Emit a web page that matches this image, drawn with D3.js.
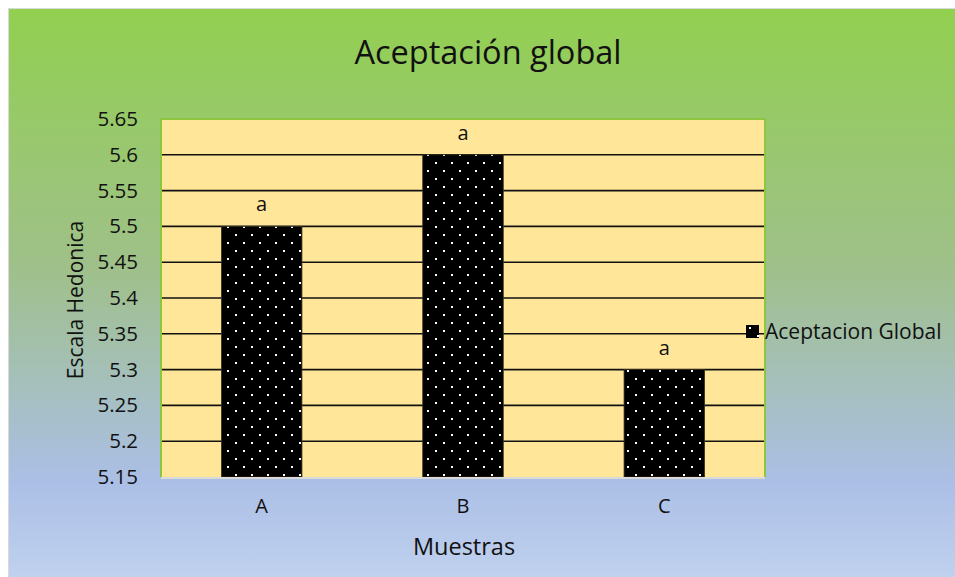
<!DOCTYPE html>
<html lang="es">
<head>
    <meta charset="UTF-8">
    <title>Aceptación global</title>
    <script src="https://cdn.jsdelivr.net/npm/d3@7"></script>
    <style>
        html, body {
            margin: 0;
            padding: 0;
            width: 100%;
            height: 100%;
            overflow: hidden;
            background: #fff;
        }
        text {
            font-family: "Open Sans", "Noto Sans", sans-serif;
            fill: #111;
        }
    </style>
</head>
<body>
</body>
<script>
    let width = 955;
    let height = 577;

    // datos
    let muestras = ['A', 'B', 'C'];
    let valores = [5.5, 5.6, 5.3];
    let letras = ['a', 'a', 'a'];
    let yTicks = [5.15, 5.2, 5.25, 5.3, 5.35, 5.4, 5.45, 5.5, 5.55, 5.6, 5.65];
    let serie = 'Aceptacion Global';

    let plot = {left: 161, right: 765, top: 119, bottom: 477};

    let svg = d3.select('body').append('svg')
        .attr('width', width)
        .attr('height', height);

    let defs = svg.append('defs');

    // fondo degradado verde -> azul
    let grad = defs.append('linearGradient')
        .attr('id', 'bg')
        .attr('x1', 0).attr('y1', 0).attr('x2', 0).attr('y2', 1);
    grad.append('stop').attr('offset', '0%').attr('stop-color', '#92d050');
    grad.append('stop').attr('offset', '45%').attr('stop-color', '#9fc08a');
    grad.append('stop').attr('offset', '82%').attr('stop-color', '#abbfe6');
    grad.append('stop').attr('offset', '100%').attr('stop-color', '#c2d3ef');

    // patrón de puntos blancos
    let pat = defs.append('pattern')
        .attr('id', 'dots')
        .attr('patternUnits', 'userSpaceOnUse')
        .attr('width', 16).attr('height', 16);
    pat.append('rect').attr('width', 16).attr('height', 16).attr('fill', '#000');
    pat.append('rect').attr('x', 3).attr('y', 2).attr('width', 2).attr('height', 2).attr('fill', '#fff');
    pat.append('rect').attr('x', 11).attr('y', 10).attr('width', 2).attr('height', 2).attr('fill', '#fff');

    svg.append('rect')
        .attr('x', 8.5).attr('y', 8.5)
        .attr('width', width).attr('height', height)
        .attr('fill', 'url(#bg)')
        .attr('stroke', '#d9d9d9');

    let x = d3.scaleBand()
        .domain(muestras)
        .range([plot.left, plot.right])
        .paddingInner(0.6)
        .paddingOuter(0.3);

    let y = d3.scaleLinear()
        .domain([5.15, 5.65])
        .range([plot.bottom, plot.top]);

    // área de trazado
    svg.append('rect')
        .attr('x', plot.left).attr('y', plot.top)
        .attr('width', plot.right - plot.left)
        .attr('height', plot.bottom - plot.top)
        .attr('fill', '#ffe699');

    // líneas de cuadrícula
    svg.append('g')
        .selectAll('line')
        .data(yTicks.slice(1, -1))
        .enter().append('line')
        .attr('x1', plot.left).attr('x2', plot.right)
        .attr('y1', d => y(d)).attr('y2', d => y(d))
        .attr('stroke', '#111')
        .attr('stroke-width', 1.6);

    // barras
    svg.append('g')
        .selectAll('rect')
        .data(valores)
        .enter().append('rect')
        .attr('x', (d, i) => x(muestras[i]))
        .attr('y', d => y(d))
        .attr('width', x.bandwidth())
        .attr('height', d => plot.bottom - y(d))
        .attr('fill', 'url(#dots)')
        .attr('stroke', '#3a3320')
        .attr('stroke-width', 0.8);

    // bordes del área
    svg.append('path')
        .attr('d', `M${plot.left},${plot.bottom}V${plot.top}H${plot.right}V${plot.bottom}`)
        .attr('fill', 'none')
        .attr('stroke', '#8cc63f')
        .attr('stroke-width', 2);
    svg.append('line')
        .attr('x1', plot.left).attr('x2', plot.right)
        .attr('y1', plot.bottom + 1).attr('y2', plot.bottom + 1)
        .attr('stroke', '#d9d9d9')
        .attr('stroke-width', 2);

    // letras sobre barras
    svg.append('g')
        .selectAll('text')
        .data(letras)
        .enter().append('text')
        .attr('x', (d, i) => x(muestras[i]) + x.bandwidth() / 2)
        .attr('y', (d, i) => y(valores[i]) - 15)
        .attr('text-anchor', 'middle')
        .style('font-size', '20px')
        .text(d => d);

    // eje Y
    let yAxis = svg.append('g')
        .attr('transform', `translate(${plot.left - 23},0)`)
        .call(d3.axisLeft(y).tickValues(yTicks).tickSize(0).tickPadding(0).tickFormat(d3.format('')));
    yAxis.select('.domain').remove();
    yAxis.selectAll('text')
        .style('font-size', '20.5px')
        .style('font-family', '"Open Sans", sans-serif')
        .attr('fill', '#111');

    // eje X
    let xAxis = svg.append('g')
        .attr('transform', `translate(0,${plot.bottom + 22})`)
        .call(d3.axisBottom(x).tickSize(0).tickPadding(0));
    xAxis.select('.domain').remove();
    xAxis.selectAll('text')
        .style('font-size', '20px')
        .style('font-family', '"Open Sans", sans-serif')
        .attr('fill', '#111');

    // títulos
    svg.append('text')
        .attr('x', 488).attr('y', 64)
        .attr('text-anchor', 'middle')
        .style('font-size', '32.5px')
        .text('Aceptación global');

    svg.append('text')
        .attr('x', 464).attr('y', 555)
        .attr('text-anchor', 'middle')
        .style('font-size', '23.5px')
        .text('Muestras');

    svg.append('text')
        .attr('transform', `translate(83,300) rotate(-90)`)
        .attr('text-anchor', 'middle')
        .style('font-size', '21px')
        .text('Escala Hedonica');

    // leyenda
    let leg = svg.append('g').attr('transform', 'translate(746,325)');
    leg.append('rect')
        .attr('width', 13).attr('height', 13)
        .attr('fill', 'url(#dots)');
    leg.append('text')
        .attr('x', 19).attr('y', 14)
        .style('font-size', '21px')
        .text(serie);
</script>
</html>
